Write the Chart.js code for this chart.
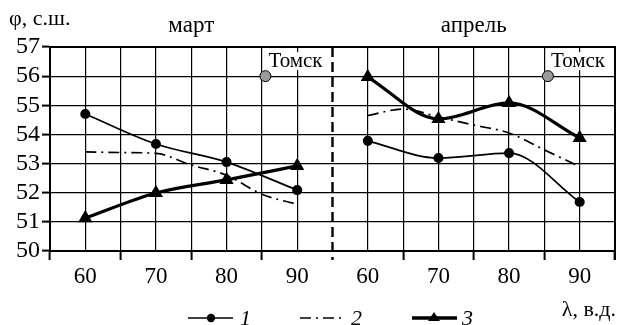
<!DOCTYPE html>
<html>
<head>
<meta charset="utf-8">
<script src="https://cdn.jsdelivr.net/npm/chart.js@4.4.1/dist/chart.umd.min.js"></script>
<style>
  body { margin: 0; background: #fff; }
  #wrap { width: 617px; height: 325px; }
</style>
</head>
<body>
<div id="wrap"><canvas id="chart" width="617" height="325"></canvas></div>
<script>
// --- Data ---
const lonTicks = [60, 70, 80, 90];              // markers of series 1 and 3
const lonDense = [60, 65, 70, 75, 80, 85, 90];  // series 2 has no markers, read every 5°
const latTicks = [50, 51, 52, 53, 54, 55, 56, 57];
const months = ['март', 'апрель'];

const marS1 = [54.7, 53.67, 53.05, 52.09];
const marS2 = [53.4, 53.38, 53.35, 52.95, 52.6, 51.95, 51.6];
const marS3 = [51.13, 51.99, 52.44, 52.92];

const aprS1 = [53.78, 53.19, 53.36, 51.68];
const aprS2 = [54.65, 54.87, 54.6, 54.32, 54.05, 53.47, 52.9];
const aprS3 = [55.97, 54.53, 55.08, 53.88];

const tomskLon = 85.5;
const tomskLat = 56;

// April panel sits to the right of March on one shared axis
const aprilShift = 40;
const panelMin = 55, panelMax = 95;

const SERIF = '"Liberation Serif", "DejaVu Serif", serif';

function pts(lons, vals, shift) {
    return lons.map((l, i) => ({ x: l + shift, y: vals[i] }));
}

const s1Style = { borderColor: '#000', backgroundColor: '#000', borderWidth: 1.7, pointStyle: 'circle', pointRadius: 4.2 };
const s2Style = { borderColor: '#000', borderWidth: 1.7, borderDash: [11, 5, 2, 5], pointRadius: 0 };
const s3Style = { borderColor: '#000', backgroundColor: '#000', borderWidth: 3.2, pointStyle: 'triangle', pointRadius: 5 };
const tomskStyle = { backgroundColor: '#9a9a9a', borderColor: '#000', borderWidth: 1, pointRadius: 5.5, showLine: false };

const datasets = [
    { data: pts(lonDense, marS2, 0), ...s2Style },
    { data: pts(lonDense, aprS2, aprilShift), ...s2Style },
    { data: pts(lonTicks, marS1, 0), ...s1Style },
    { data: pts(lonTicks, aprS1, aprilShift), ...s1Style },
    { data: pts(lonTicks, marS3, 0), ...s3Style },
    { data: pts(lonTicks, aprS3, aprilShift), ...s3Style },
    { data: [{ x: tomskLon, y: tomskLat }], ...tomskStyle },
    { data: [{ x: tomskLon + aprilShift, y: tomskLat }], ...tomskStyle }
];

// --- Extra drawing: separator, captions, Tomsk labels, legend ---
const decor = {
    id: 'decor',
    beforeDatasetsDraw(chart) {
        const { ctx, chartArea: a, scales: { x } } = chart;
        // frame top / right
        ctx.save();
        ctx.strokeStyle = '#000';
        ctx.lineWidth = 2;
        ctx.beginPath();
        ctx.moveTo(a.left, a.top); ctx.lineTo(a.right, a.top); ctx.lineTo(a.right, a.bottom + 9);
        ctx.stroke();
        // dashed separator between months
        const sx = x.getPixelForValue(panelMax);
        ctx.lineWidth = 2.4;
        ctx.setLineDash([10, 5]);
        ctx.beginPath();
        ctx.moveTo(sx, a.top); ctx.lineTo(sx, a.bottom + 9);
        ctx.stroke();
        ctx.restore();
    },
    afterDatasetsDraw(chart) {
        const { ctx, scales: { x, y } } = chart;
        ctx.save();
        ctx.fillStyle = '#000';
        ctx.textBaseline = 'alphabetic';

        // Tomsk labels with white background
        ctx.font = '21px ' + SERIF;
        [0, aprilShift].forEach(sh => {
            const px = x.getPixelForValue(tomskLon + sh) + 2;
            const py = y.getPixelForValue(tomskLat) - 9;
            const w = ctx.measureText('Томск').width;
            ctx.fillStyle = '#fff';
            ctx.fillRect(px, py - 15, w + 2, 18);
            ctx.fillStyle = '#000';
            ctx.textAlign = 'left';
            ctx.fillText('Томск', px + 1, py);
        });

        // month titles
        ctx.font = '23px ' + SERIF;
        ctx.textAlign = 'center';
        ctx.fillText(months[0], x.getPixelForValue(75), 32);
        ctx.fillText(months[1], x.getPixelForValue(75 + aprilShift), 32);

        // axis captions
        ctx.font = '22px ' + SERIF;
        ctx.textAlign = 'left';
        ctx.fillText('φ, с.ш.', 9, 25);
        ctx.textAlign = 'right';
        ctx.fillText('λ, в.д.', 616, 316);

        // legend
        const ly = 318;
        ctx.strokeStyle = '#000';
        ctx.lineCap = 'butt';
        // 1
        ctx.lineWidth = 1.7;
        ctx.beginPath(); ctx.moveTo(188, ly); ctx.lineTo(233, ly); ctx.stroke();
        ctx.beginPath(); ctx.arc(211, ly, 4.2, 0, Math.PI * 2); ctx.fill();
        // 2
        ctx.setLineDash([11, 5, 2, 5]);
        ctx.beginPath(); ctx.moveTo(300, ly); ctx.lineTo(344, ly); ctx.stroke();
        ctx.setLineDash([]);
        // 3
        ctx.lineWidth = 3.4;
        ctx.beginPath(); ctx.moveTo(412, ly); ctx.lineTo(457, ly); ctx.stroke();
        ctx.beginPath(); ctx.moveTo(434, ly - 6); ctx.lineTo(440, ly + 3); ctx.lineTo(428, ly + 3); ctx.closePath(); ctx.fill();

        ctx.font = 'italic 22px ' + SERIF;
        ctx.textAlign = 'left';
        ctx.fillText('1', 240, ly + 7);
        ctx.fillText('2', 351, ly + 7);
        ctx.fillText('3', 462, ly + 7);
        ctx.restore();
    }
};

new Chart(document.getElementById('chart'), {
    type: 'line',
    data: { datasets },
    plugins: [decor],
    options: {
        responsive: false,
        animation: false,
        layout: { autoPadding: false, padding: { top: 47, right: 2, left: 0, bottom: 0 } },
        plugins: { legend: { display: false }, tooltip: { enabled: false } },
        elements: { line: { cubicInterpolationMode: 'monotone' } },
        scales: {
            x: {
                type: 'linear',
                min: panelMin,
                max: panelMax + aprilShift,
                afterFit(scale) {
                    scale.height = 74;
                    scale.paddingLeft = 0;
                    scale.paddingRight = 0;
                },
                afterBuildTicks(scale) {
                    const t = [];
                    for (let v = panelMin; v <= panelMax + aprilShift; v += 5) t.push({ value: v });
                    scale.ticks = t;
                },
                ticks: {
                    autoSkip: false,
                    maxRotation: 0,
                    padding: 3,
                    color: '#000',
                    font: { family: SERIF, size: 23 },
                    callback: v => lonTicks.includes(v) ? String(v)
                        : lonTicks.includes(v - aprilShift) ? String(v - aprilShift) : ''
                },
                grid: {
                    color: c => (c.tick && c.tick.value === panelMax) ? 'rgba(0,0,0,0)' : '#000',
                    lineWidth: 1.2,
                    tickLength: 9,
                    tickColor: c => (c.tick && c.tick.value % 10 === 5 && c.tick.value !== panelMax) ? '#000' : 'rgba(0,0,0,0)',
                    tickWidth: 2
                },
                border: { display: true, color: '#000', width: 2 }
            },
            y: {
                min: latTicks[0],
                max: latTicks[latTicks.length - 1],
                afterFit(scale) {
                    scale.width = 50;
                    scale.paddingTop = 0;
                    scale.paddingBottom = 0;
                },
                afterBuildTicks(scale) { scale.ticks = latTicks.map(v => ({ value: v })); },
                ticks: {
                    autoSkip: false,
                    padding: 2,
                    color: '#000',
                    font: { family: SERIF, size: 24 }
                },
                grid: {
                    color: '#000',
                    lineWidth: 1.2,
                    tickLength: 8,
                    tickWidth: 2
                },
                border: { display: true, color: '#000', width: 2 }
            }
        }
    }
});
</script>
</body>
</html>
